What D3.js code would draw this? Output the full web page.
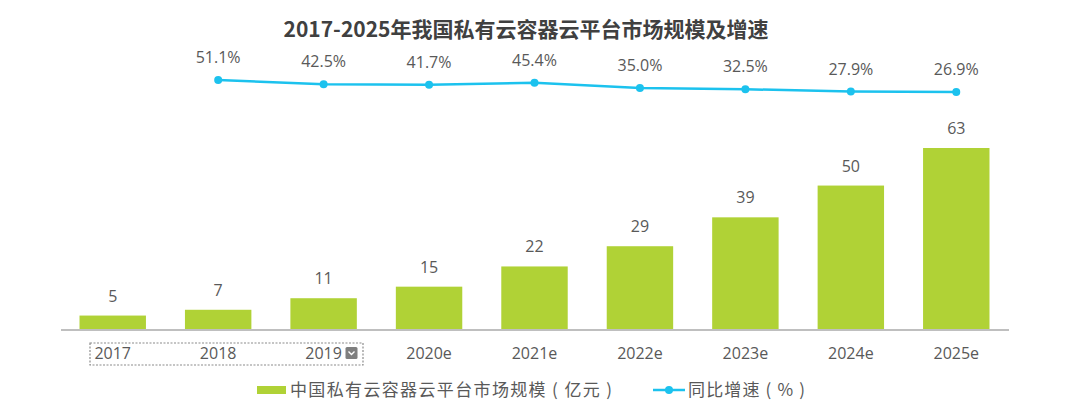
<!DOCTYPE html>
<html>
<head>
<meta charset="utf-8">
<script src="https://cdn.jsdelivr.net/npm/d3@7"></script>
<style>
  body { margin: 0; background: #fff; }
  text { font-family: "Open Sans", "Noto Sans CJK SC", sans-serif; }
  .cjk { font-family: "Noto Sans CJK SC", sans-serif; }
</style>
</head>
<body>
<div id="chart"></div>
<script>
// data
const years = ["2017", "2018", "2019", "2020e", "2021e", "2022e", "2023e", "2024e", "2025e"];
const marketSize = [5, 7, 11, 15, 22, 29, 39, 50, 63];
const growthYears = ["2018", "2019", "2020e", "2021e", "2022e", "2023e", "2024e", "2025e"];
const growthRate = [51.1, 42.5, 41.7, 45.4, 35.0, 32.5, 27.9, 26.9];

const title = "2017-2025年我国私有云容器云平台市场规模及增速";
const barLegend = "中国私有云容器云平台市场规模 ( 亿元 )";
const lineLegend = "同比增速 ( % )";

const width = 1072, height = 408;
const barColor = "#b0d236";
const lineColor = "#1cc2ee";
const textColor = "#595959";

const svg = d3.select("#chart").append("svg")
  .attr("width", width).attr("height", height);

// scales
const x = d3.scaleBand().domain(years).range([60, 1009]).paddingInner(0.37).paddingOuter(0.185);
const y = d3.scaleLinear().domain([0, 63]).range([330, 148]);
const yLine = d3.scaleLinear().domain([0, 100]).range([105.5, 55.5]);

// title
svg.append("text")
  .attr("class", "cjk")
  .attr("x", 526).attr("y", 37)
  .attr("text-anchor", "middle")
  .attr("font-size", 21).attr("font-weight", "bold")
  .attr("fill", "#404040")
  .text(title);

// bars
svg.selectAll(".bar")
  .data(marketSize)
  .enter().append("rect")
  .attr("class", "bar")
  .attr("x", (d, i) => x(years[i]))
  .attr("y", d => y(d))
  .attr("width", x.bandwidth())
  .attr("height", d => y(0) - y(d))
  .attr("fill", barColor);

svg.selectAll(".bar-label")
  .data(marketSize)
  .enter().append("text")
  .attr("class", "bar-label")
  .attr("x", (d, i) => x(years[i]) + x.bandwidth() / 2)
  .attr("y", d => y(d) - 14)
  .attr("text-anchor", "middle")
  .attr("font-size", 16)
  .attr("fill", textColor)
  .text(d => d);

// x axis
const xAxis = svg.append("g")
  .attr("transform", `translate(0,${y(0)})`)
  .call(d3.axisBottom(x).tickSize(0).tickPadding(18));
xAxis.select(".domain").attr("stroke", "#bfbfbf").attr("stroke-width", 2)
  .attr("d", `M61,0H1009`);
xAxis.selectAll("text")
  .attr("font-family", "'Open Sans', sans-serif")
  .attr("font-size", 16).attr("fill", textColor);

// dashed selection box around first three labels
svg.append("rect")
  .attr("x", 90).attr("y", 343).attr("width", 273).attr("height", 22)
  .attr("fill", "none").attr("stroke", "#8c8c8c")
  .attr("stroke-width", 1.2).attr("stroke-dasharray", "2,1.5");
svg.append("rect")
  .attr("x", 345.5).attr("y", 347).attr("width", 12).attr("height", 12)
  .attr("rx", 1.5).attr("fill", "#7f7f7f");
svg.append("path")
  .attr("d", "M348.5,351.5L351.5,354.5L354.5,351.5")
  .attr("fill", "none").attr("stroke", "#fff").attr("stroke-width", 1.4);

// growth line
const lineGen = d3.line()
  .x((d, i) => x(growthYears[i]) + x.bandwidth() / 2)
  .y(d => yLine(d));

svg.append("path")
  .datum(growthRate)
  .attr("d", lineGen)
  .attr("fill", "none")
  .attr("stroke", lineColor)
  .attr("stroke-width", 2.5);

svg.selectAll(".dot")
  .data(growthRate)
  .enter().append("circle")
  .attr("class", "dot")
  .attr("cx", (d, i) => x(growthYears[i]) + x.bandwidth() / 2)
  .attr("cy", d => yLine(d))
  .attr("r", 4)
  .attr("fill", lineColor);

svg.selectAll(".line-label")
  .data(growthRate)
  .enter().append("text")
  .attr("class", "line-label")
  .attr("x", (d, i) => x(growthYears[i]) + x.bandwidth() / 2)
  .attr("y", d => yLine(d) - 17)
  .attr("text-anchor", "middle")
  .attr("font-size", 16)
  .attr("fill", textColor)
  .text(d => d.toFixed(1) + "%");

// legend
const legend = svg.append("g");
legend.append("rect")
  .attr("x", 257).attr("y", 386).attr("width", 29).attr("height", 8)
  .attr("fill", barColor);
legend.append("text")
  .attr("class", "cjk")
  .attr("x", 290).attr("y", 396)
  .attr("font-size", 17).attr("fill", textColor)
  .attr("textLength", 322).attr("lengthAdjust", "spacing")
  .text(barLegend);
legend.append("line")
  .attr("x1", 653).attr("x2", 685).attr("y1", 390).attr("y2", 390)
  .attr("stroke", lineColor).attr("stroke-width", 2.5);
legend.append("circle")
  .attr("cx", 669).attr("cy", 390).attr("r", 4).attr("fill", lineColor);
legend.append("text")
  .attr("class", "cjk")
  .attr("x", 688).attr("y", 396)
  .attr("font-size", 17).attr("fill", textColor)
  .attr("textLength", 117).attr("lengthAdjust", "spacing")
  .text(lineLegend);
</script>
</body>
</html>
